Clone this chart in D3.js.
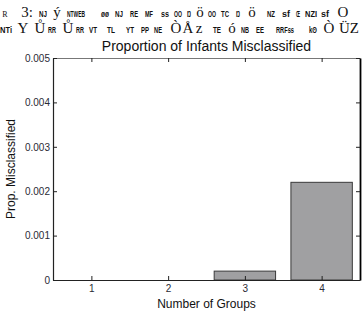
<!DOCTYPE html>
<html>
<head>
<meta charset="utf-8">
<script src="https://cdn.jsdelivr.net/npm/d3@7"></script>
<style>
  body { margin: 0; background: #fff; }
  svg { display: block; font-family: "Liberation Sans", Arial, sans-serif; }
</style>
</head>
<body>
<svg id="chart" width="364" height="314"></svg>
<script>
// data
var groups = [1, 2, 3, 4];
var propMisclassified = [0, 0, 0.0002, 0.0022];
var yTicks = [0, 0.001, 0.002, 0.003, 0.004, 0.005];
var yTickLabels = ['0', '0.001', '0.002', '0.003', '0.004', '0.005'];

// garbled header glyphs (as they appear in the picture)
var headLine1 = ['R', '3:', 'NJ', 'ý', 'NTWEB', 'øø', 'NJ', 'RE', 'MF', 'ss', 'OO', 'Ŋ', 'ö', 'OO', 'TC', 'Ŋ', 'ö', 'NZ', 'sf', 'Œ', 'NZI', 'sf', 'O'];
var headLine2 = ['NTi', 'Y', 'Ů', 'RR', 'Ů', 'RR', 'VT', 'TL', 'YT', 'PP', 'NE', 'Ò', 'Å', 'z', 'TE', 'ó', 'NB', 'EE', 'RRFss', 'kʘ', 'Ò', 'ÜZ'];
var bigGlyphs = ['3:', 'Y', 'Ů', 'Ò', 'Å', 'ó', 'ö', 'ý', 'O', 'ÜZ', 'z', 'R'];

// where each header glyph sits (layout only)
var head1X = [5, 27, 43, 57, 76, 105, 119, 134, 149, 165, 178, 189, 200, 212, 225, 238, 252, 271, 286, 298, 311, 325, 343];
var head2X = [6, 23, 40, 52, 68, 80, 93, 111, 130, 145, 158, 176, 188, 199, 217, 232, 245, 260, 285, 313, 329, 349];

function drawChart() {
  var svg = d3.select('#chart');
  var margin = {top: 58, right: 4, bottom: 34, left: 53};
  var w = 364 - margin.left - margin.right,
      h = 280 - margin.top;

  var x = d3.scaleLinear().domain([0.5, 4.5]).range([0, w]);
  var y = d3.scaleLinear().domain([0, 0.005]).range([h, 0]);

  function isBig(t) { return bigGlyphs.indexOf(t) >= 0; }
  function headRow(tokens, xs, yPos) {
    svg.append('g').selectAll('text')
      .data(tokens).enter().append('text')
      .attr('x', (d, i) => xs[i])
      .attr('y', yPos)
      .attr('text-anchor', 'middle')
      .attr('fill', '#111')
      .style('font-family', d => isBig(d) ? '"Liberation Serif", serif' : '"Liberation Sans Narrow", "Liberation Sans", sans-serif')
      .style('font-weight', d => isBig(d) ? 'normal' : 'bold')
      .style('font-size', d => d === 'R' ? '8px' : (isBig(d) ? '15px' : '9px'))
      .attr('textLength', d => isBig(d) ? null : Math.min(d.length * 4, 18))
      .attr('lengthAdjust', 'spacingAndGlyphs')
      .text(d => d);
  }
  headRow(headLine1, head1X, 17);
  headRow(headLine2, head2X, 33);

  // title
  svg.append('text')
    .attr('x', margin.left + w / 2)
    .attr('y', 51)
    .attr('text-anchor', 'middle')
    .style('font-size', '14px')
    .attr('fill', '#111')
    .text('Proportion of Infants Misclassified');

  var g = svg.append('g')
    .attr('transform', 'translate(' + margin.left + ',' + margin.top + ')');

  // bars
  g.selectAll('rect')
    .data(groups)
    .enter().append('rect')
    .attr('x', (d) => x(d - 0.4))
    .attr('width', x(0.8) - x(0))
    .attr('y', (d, i) => y(propMisclassified[i]))
    .attr('height', (d, i) => h - y(propMisclassified[i]))
    .attr('fill', '#a0a0a2')
    .attr('stroke', '#3a3a3a')
    .attr('stroke-width', 1);

  // axes (ticks point inward, matlab style)
  var xAxis = d3.axisBottom(x).tickValues(groups).tickFormat(d3.format('d')).tickSize(-4).tickPadding(5).tickSizeOuter(0);
  var yAxis = d3.axisLeft(y).tickValues(yTicks).tickFormat((d, i) => yTickLabels[i]).tickSize(-4).tickPadding(3).tickSizeOuter(0);

  var gTop = g.append('g').call(d3.axisTop(x).tickValues(groups).tickSize(-4).tickSizeOuter(0).tickFormat(''));
  var gRight = g.append('g').attr('transform', 'translate(' + w + ',0)')
    .call(d3.axisRight(y).tickValues(yTicks).tickSize(-4).tickSizeOuter(0).tickFormat(''));
  var gx = g.append('g').attr('transform', 'translate(0,' + h + ')').call(xAxis);
  var gy = g.append('g').call(yAxis);

  g.selectAll('.domain').attr('stroke', '#222').attr('stroke-width', 1.2);
  gTop.select('.domain').attr('stroke', '#777');
  gRight.select('.domain').attr('stroke', '#000').attr('stroke-width', 1.8);
  g.selectAll('.tick line').attr('stroke', '#222');
  g.selectAll('.tick text').attr('fill', '#2a2a35').style('font-size', '10px').style('font-family', '"Liberation Sans", Arial, sans-serif');

  // axis labels
  svg.append('text')
    .attr('x', margin.left + w / 2)
    .attr('y', 308)
    .attr('text-anchor', 'middle')
    .style('font-size', '12px')
    .attr('fill', '#111')
    .text('Number of Groups');

  svg.append('text')
    .attr('transform', 'translate(15,' + (margin.top + h / 2) + ') rotate(-90)')
    .attr('text-anchor', 'middle')
    .style('font-size', '12px')
    .attr('fill', '#111')
    .text('Prop. Misclassified');
}

drawChart();
</script>
</body>
</html>
